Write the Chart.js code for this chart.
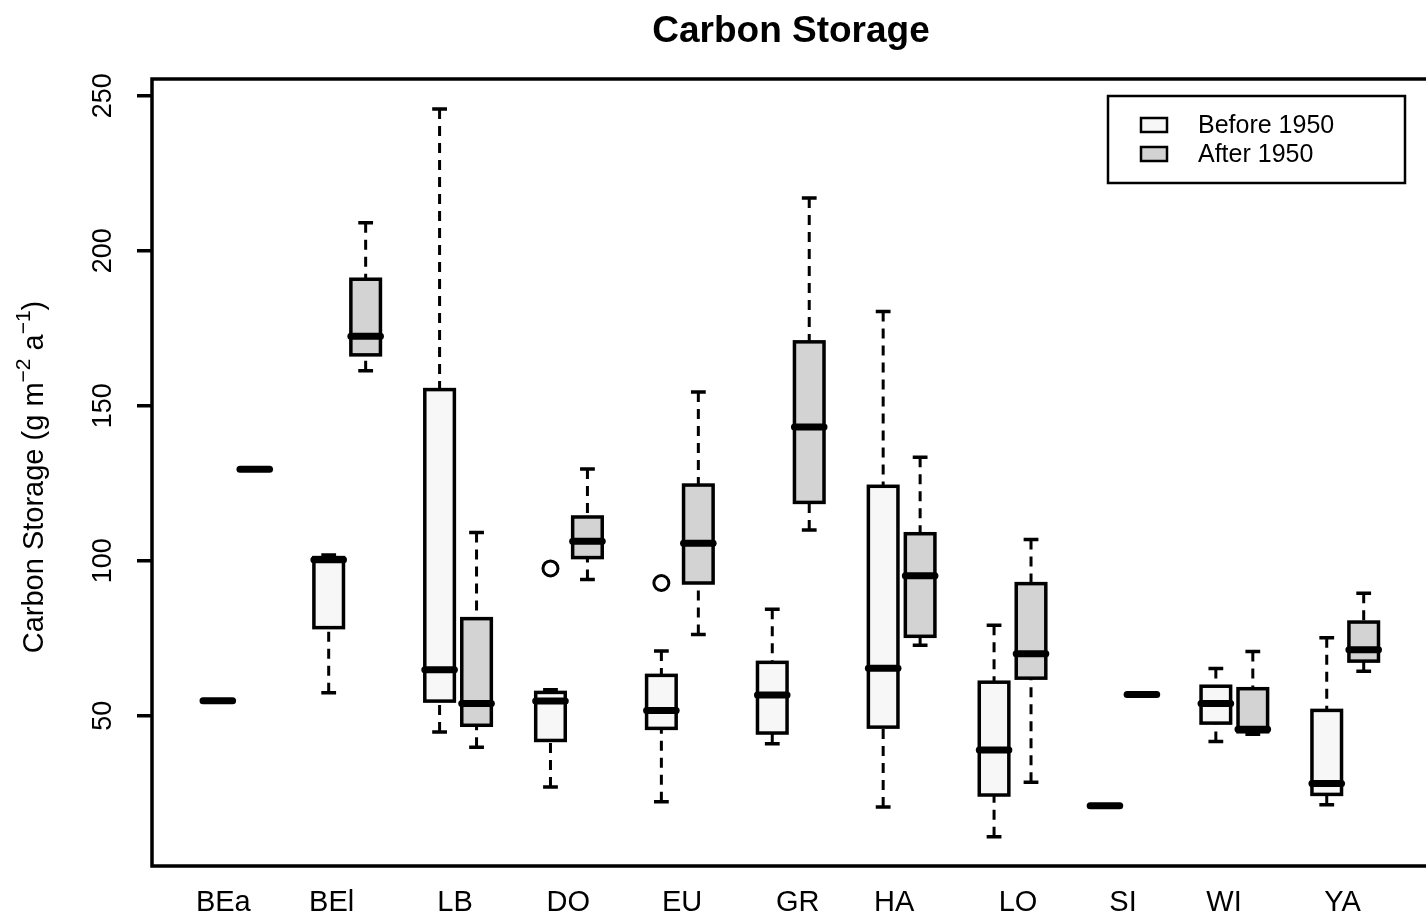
<!doctype html>
<html>
<head>
<title>Carbon Storage</title>
<script src="https://cdn.jsdelivr.net/npm/chart.js"></script>
<style>
  html, body { margin: 0; padding: 0; overflow: hidden; background: #fff; }
  #wrap { width: 1440px; height: 913px; }
</style>
</head>
<body>
<div id="wrap"><canvas id="grafico" width="1440" height="913"></canvas></div>
<script>
var sites = ['BEa', 'BEl', 'LB', 'DO', 'EU', 'GR', 'HA', 'LO', 'SI', 'WI', 'YA'];
var labelAt = [1.15, 4.08, 7.42, 10.48, 13.56, 16.69, 19.30, 22.65, 25.49, 28.22, 31.43];
var yTicks = [50, 100, 150, 200, 250];
var seriesNames = ['Before 1950', 'After 1950'];

// [min, q1, median, q3, max] for each site
var before = [
    [54.8, 54.8, 54.8, 54.8, 54.8],
    [57.4, 78.4, 100.3, 101.0, 101.8],
    [44.7, 54.7, 64.8, 155.2, 245.7],
    [27.0, 42.0, 54.7, 57.5, 58.4],
    [22.2, 45.9, 51.7, 63.0, 70.9],
    [40.9, 44.4, 56.7, 67.2, 84.3],
    [20.5, 46.3, 65.3, 124.0, 180.4],
    [10.9, 24.4, 38.9, 60.8, 79.2],
    [20.9, 20.9, 20.9, 20.9, 20.9],
    [41.7, 47.6, 53.9, 59.5, 65.2],
    [21.3, 24.6, 28.1, 51.7, 75.1]
];
var after = [
    [129.5, 129.5, 129.5, 129.5, 129.5],
    [161.3, 166.4, 172.4, 190.8, 209.0],
    [39.8, 46.9, 53.9, 81.3, 109.1],
    [93.9, 101.0, 106.3, 114.1, 129.6],
    [76.2, 92.8, 105.6, 124.4, 154.4],
    [109.9, 118.8, 143.1, 170.6, 217.0],
    [72.7, 75.6, 95.1, 108.7, 133.4],
    [28.5, 62.1, 70.0, 92.6, 106.8],
    [56.8, 56.8, 56.8, 56.8, 56.8],
    [44.0, 44.8, 45.6, 58.7, 70.7],
    [64.3, 67.6, 71.3, 80.2, 89.5]
];
// outliers (all in the "before" series)
var outlierSite = ['DO', 'EU'];
var outlierValue = [97.5, 92.8];

var fills = ['#f7f7f7', '#d3d3d3'];
var fonte = '"Liberation Sans", Arial, sans-serif';

// position on the x axis: 1,2  4,5  7,8 ...
function posicao(i, s) { return i * 3 + 1 + s; }

var pontos = outlierSite.map(function (nome, k) {
    return { x: posicao(sites.indexOf(nome), 0), y: outlierValue[k] };
});

function desenhaCaixa(ctx, xs, ys, pos, st, cor) {
    var xc = xs.getPixelForValue(pos);
    var meia = xs.getPixelForValue(pos + 0.4) - xc;
    var p = st.map(function (v) { return ys.getPixelForValue(v); });

    ctx.save();
    ctx.strokeStyle = '#000';
    // whiskers
    ctx.lineWidth = 3;
    ctx.lineCap = 'butt';
    ctx.setLineDash([10, 7]);
    ctx.beginPath();
    ctx.moveTo(xc, p[4]); ctx.lineTo(xc, p[3]);
    ctx.moveTo(xc, p[0]); ctx.lineTo(xc, p[1]);
    ctx.stroke();
    ctx.setLineDash([]);
    // staples
    ctx.lineWidth = 3.5;
    ctx.beginPath();
    ctx.moveTo(xc - meia / 2, p[4]); ctx.lineTo(xc + meia / 2, p[4]);
    ctx.moveTo(xc - meia / 2, p[0]); ctx.lineTo(xc + meia / 2, p[0]);
    ctx.stroke();
    // box
    ctx.fillStyle = cor;
    ctx.fillRect(xc - meia, p[3], meia * 2, p[1] - p[3]);
    ctx.strokeRect(xc - meia, p[3], meia * 2, p[1] - p[3]);
    // median
    ctx.lineWidth = 7;
    ctx.lineCap = 'round';
    ctx.beginPath();
    ctx.moveTo(xc - meia, p[2]); ctx.lineTo(xc + meia, p[2]);
    ctx.stroke();
    ctx.restore();
}

var caixas = {
    id: 'caixas',
    beforeDatasetsDraw: function (chart) {
        var ctx = chart.ctx, xs = chart.scales.x, ys = chart.scales.y;
        sites.forEach(function (nome, i) {
            desenhaCaixa(ctx, xs, ys, posicao(i, 0), before[i], fills[0]);
            desenhaCaixa(ctx, xs, ys, posicao(i, 1), after[i], fills[1]);
        });
    },
    afterDraw: function (chart) {
        var ctx = chart.ctx, ca = chart.chartArea, xs = chart.scales.x, ys = chart.scales.y;
        ctx.save();
        ctx.strokeStyle = '#000';
        ctx.fillStyle = '#000';

        // frame
        ctx.lineWidth = 3.5;
        ctx.strokeRect(ca.left, ca.top, ca.right - ca.left, ca.bottom - ca.top);

        // y ticks and rotated labels
        ctx.beginPath();
        yTicks.forEach(function (v) {
            var y = ys.getPixelForValue(v);
            ctx.moveTo(ca.left - 15, y); ctx.lineTo(ca.left, y);
        });
        ctx.stroke();
        ctx.font = '27px ' + fonte;
        ctx.textAlign = 'center';
        ctx.textBaseline = 'alphabetic';
        yTicks.forEach(function (v) {
            var y = ys.getPixelForValue(v);
            ctx.save();
            ctx.translate(111, y);
            ctx.rotate(-Math.PI / 2);
            ctx.fillText(String(v), 0, 0);
            ctx.restore();
        });

        // x labels
        ctx.font = '29px ' + fonte;
        sites.forEach(function (nome, i) {
            ctx.fillText(nome, xs.getPixelForValue(labelAt[i]), 911);
        });

        // y axis title with superscripts
        var partes = [
            ['Carbon Storage (g m', false], ['\u22122', true], [' a', false], ['\u22121', true], [')', false]
        ];
        var larg = 0;
        partes.forEach(function (p) {
            ctx.font = (p[1] ? '21px ' : '29px ') + fonte;
            p.push(ctx.measureText(p[0]).width);
            larg += p[2];
        });
        ctx.save();
        ctx.translate(43, ys.getPixelForValue(127));
        ctx.rotate(-Math.PI / 2);
        ctx.textAlign = 'left';
        var cx = -larg / 2;
        partes.forEach(function (p) {
            ctx.font = (p[1] ? '21px ' : '29px ') + fonte;
            ctx.fillText(p[0], cx, p[1] ? -13 : 0);
            cx += p[2];
        });
        ctx.restore();

        // title
        ctx.font = 'bold 37px ' + fonte;
        ctx.textAlign = 'center';
        ctx.fillText('Carbon Storage', 791, 42);

        // legend
        ctx.lineWidth = 2.5;
        ctx.strokeRect(1108, 96, 297, 87);
        ctx.font = '25px ' + fonte;
        ctx.textAlign = 'left';
        ctx.textBaseline = 'middle';
        seriesNames.forEach(function (nome, k) {
            var y = 125 + k * 29;
            ctx.fillStyle = fills[k];
            ctx.fillRect(1141, y - 7, 26, 14);
            ctx.strokeRect(1141, y - 7, 26, 14);
            ctx.fillStyle = '#000';
            ctx.fillText(nome, 1198, y + 1);
        });
        ctx.restore();
    }
};

new Chart(document.getElementById('grafico').getContext('2d'), {
    type: 'scatter',
    data: {
        datasets: [{
            label: 'outliers',
            data: pontos,
            pointRadius: 7.5,
            pointBorderWidth: 3,
            pointBackgroundColor: '#fff',
            pointBorderColor: '#000'
        }]
    },
    options: {
        responsive: false,
        animation: false,
        layout: { padding: { left: 152, top: 79, right: 9, bottom: 47 } },
        plugins: { legend: { display: false }, tooltip: { enabled: false } },
        scales: {
            x: { type: 'linear', min: -0.78, max: 33.78, display: false },
            y: { type: 'linear', min: 1.5, max: 255.4, display: false }
        }
    },
    plugins: [caixas]
});
</script>
</body>
</html>
